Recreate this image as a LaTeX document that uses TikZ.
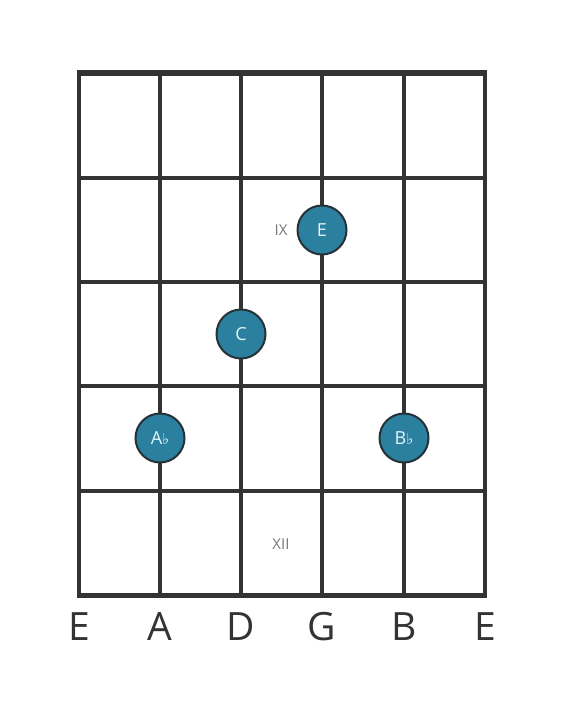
\documentclass[tikz,border=0pt]{standalone}
\usepackage{fontspec}
\setmainfont{Open Sans}
\newfontfamily\symfont{DejaVu Sans}
\usetikzlibrary{positioning}
\definecolor{wire}{RGB}{51, 51, 51}
\definecolor{teal}{RGB}{42, 128, 158}
\definecolor{rim}{RGB}{38, 50, 56}
\definecolor{paleink}{RGB}{226, 244, 248}
\definecolor{fretmark}{RGB}{120, 120, 120}
\newcommand{\flt}{{\symfont\fontsize{15}{15}\selectfont\char"266D}}

\begin{document}
\begin{tikzpicture}[x=1pt, y=-1pt]
  \useasboundingbox (0,0) rectangle (566,711);
  \begin{scope}[fret/.style={draw=wire, line width=4.5pt},
  			stringline/.style={draw=wire, line width=3.2pt},
  			note/.style={circle, draw=rim, line width=2pt, fill=teal, minimum size=49pt,
  			  inner sep=0pt, text=paleink, font=\fontsize{18}{18}\selectfont},
  			fretno/.style={text=fretmark, font=\fontsize{15}{15}\selectfont},
  			tuning/.style={text=wire, anchor=base, font=\fontsize{39}{39}\selectfont}]
  % strings
  \draw [stringline] (79,73) -- (79,595);
  \draw [stringline] (160,73) -- (160,595);
  \draw [stringline] (241,73) -- (241,595);
  \draw [stringline] (322,73) -- (322,595);
  \draw [stringline] (404,73) -- (404,595);
  \draw [stringline] (485,73) -- (485,595);
  % frets
  \draw [fret, line width=6pt] (77,73) -- (487,73);
  \draw [fret] (77,178) -- (487,178);
  \draw [fret] (77,282) -- (487,282);
  \draw [fret] (77,386) -- (487,386);
  \draw [fret] (77,491) -- (487,491);
  \draw [fret, line width=5pt] (77,595) -- (487,595);
  % dots
  \node [note] (e) at (322,230) {E};
  \node [note] (c) at (241,334) {C};
  \node [note] (ab) at (160,438) {A\flt};
  \node [note] (bb) at (404,438) {B\flt};
  \node [fretno] (ix) at (281,230) {IX};
  \node [fretno] (xii) at (281,544) {XII};
  % open strings
  \node [tuning] (s1) at (79,640) {E};
  \node [tuning] (s2) at (160,640) {A};
  \node [tuning] (s3) at (241,640) {D};
  \node [tuning] (s4) at (322,640) {G};
  \node [tuning] (s5) at (404,640) {B};
  \node [tuning] (s6) at (485,640) {E};
  \end{scope}
\end{tikzpicture}
\end{document}
